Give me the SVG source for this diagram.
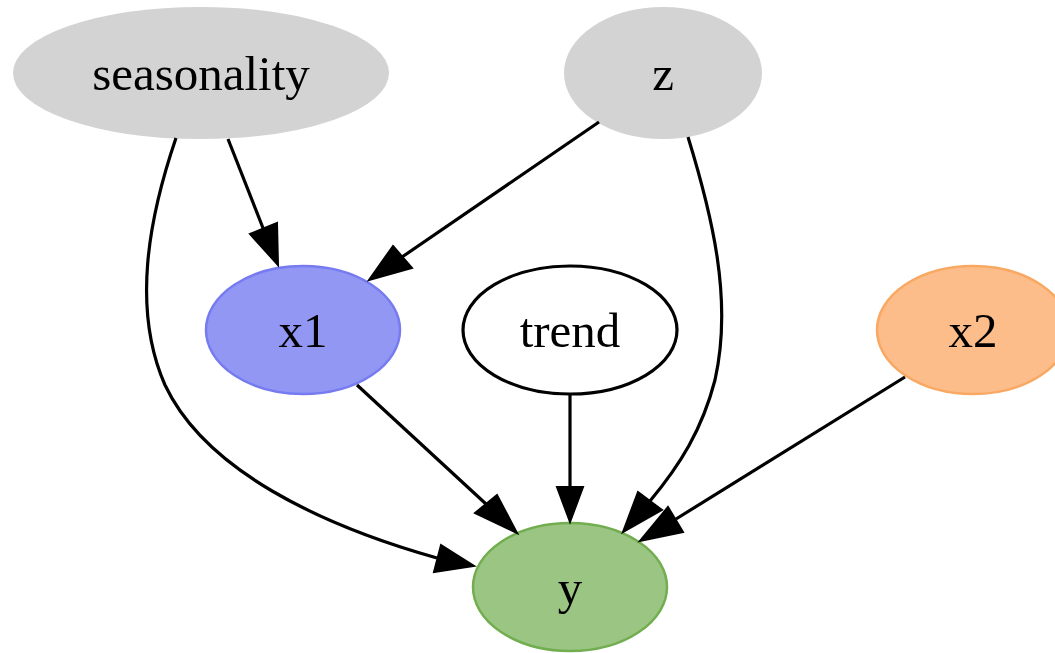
<svg xmlns="http://www.w3.org/2000/svg" width="1055" height="653" viewBox="0 0 1055 653">
<style>
  text { font-family: "Liberation Serif", "Times New Roman", serif; font-size: 49px; fill: #000; text-anchor: middle; }
  .edge { fill: none; stroke: #000; stroke-width: 3.2; }
  .head { fill: #000; stroke: #000; stroke-width: 2; stroke-linejoin: miter; }
  .gray { fill: #d3d3d3; stroke: #d3d3d3; stroke-width: 2; }
</style>
<rect width="1055" height="653" fill="#ffffff"/>
<g id="seasonality">
  <ellipse class="gray" cx="201" cy="73" rx="187" ry="65"/>
  <text x="201" y="90">seasonality</text>
</g>
<g id="z">
  <ellipse class="gray" cx="663" cy="73" rx="98" ry="65"/>
  <text x="663" y="90">z</text>
</g>
<g id="x1">
  <ellipse cx="303" cy="330" rx="97" ry="64" fill="#9297f4" stroke="#767bf0" stroke-width="2.5"/>
  <text x="303" y="347">x1</text>
</g>
<g id="trend">
  <ellipse cx="570" cy="330" rx="107" ry="64" fill="#ffffff" stroke="#000000" stroke-width="3.2"/>
  <text x="570" y="347">trend</text>
</g>
<g id="x2">
  <ellipse cx="973" cy="330" rx="96" ry="64" fill="#fcbd8b" stroke="#f9a862" stroke-width="2.5"/>
  <text x="973" y="347">x2</text>
</g>
<g id="y">
  <ellipse cx="570" cy="587" rx="97" ry="64" fill="#9ac582" stroke="#72ad4f" stroke-width="2.5"/>
  <text x="570" y="604">y</text>
</g>
<g id="edges">
  <path class="edge" d="M228,139 L263,228"/>
  <polygon class="head" points="250,234 277,223 278,265"/>
  <path class="edge" d="M176,138 C148,220 132,310 165,385 C205,470 320,525 437,558"/>
  <polygon class="head" points="441,545 434,572 474,566"/>
  <path class="edge" d="M599,122 L402,257"/>
  <polygon class="head" points="393,246 412,268 369,280"/>
  <path class="edge" d="M688,137 C712,215 733,300 715,380 C702,430 680,465 650,501"/>
  <polygon class="head" points="638,492 662,510 623,532"/>
  <path class="edge" d="M357,385 L486,504"/>
  <polygon class="head" points="475,513 497,495 517,533"/>
  <path class="edge" d="M570,394 L570,487"/>
  <polygon class="head" points="557,487 583,487 570,522"/>
  <path class="edge" d="M905,377 L676,519"/>
  <polygon class="head" points="668,507 683,532 640,541"/>
</g>
</svg>
